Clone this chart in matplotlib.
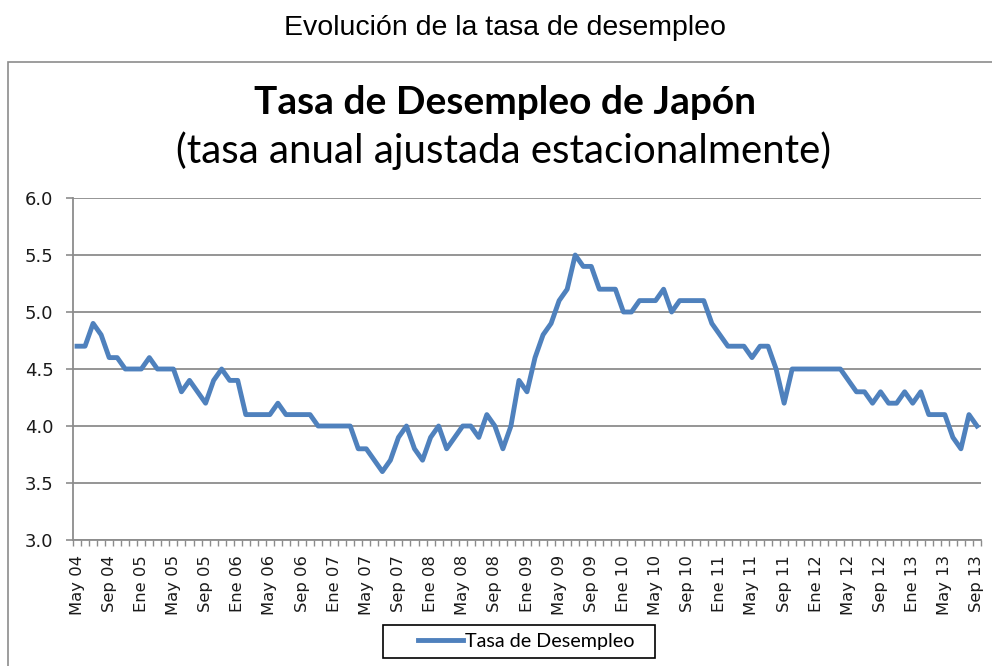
import matplotlib
matplotlib.use("Agg")
import matplotlib.pyplot as plt
from matplotlib.patches import Rectangle
import numpy as np

# Data: monthly unemployment rate, May 2004 .. Sep 2013
values = [
    4.7, 4.7, 4.9, 4.8, 4.6, 4.6, 4.5, 4.5, 4.5, 4.6,   # May04-Feb05
    4.5, 4.5, 4.5, 4.3, 4.4, 4.3, 4.2, 4.4, 4.5, 4.4,   # Mar05-Dec05
    4.4, 4.1, 4.1, 4.1, 4.1, 4.2, 4.1, 4.1, 4.1, 4.1,   # Jan06-Oct06
    4.0, 4.0, 4.0, 4.0, 4.0, 3.8, 3.8, 3.7, 3.6, 3.7,   # Nov06-Aug07
    3.9, 4.0, 3.8, 3.7, 3.9, 4.0, 3.8, 3.9, 4.0, 4.0,   # Sep07-Jun08
    3.9, 4.1, 4.0, 3.8, 4.0, 4.4, 4.3, 4.6, 4.8, 4.9,   # Jul08-Apr09
    5.1, 5.2, 5.5, 5.4, 5.4, 5.2, 5.2, 5.2, 5.0, 5.0,   # May09-Feb10
    5.1, 5.1, 5.1, 5.2, 5.0, 5.1, 5.1, 5.1, 5.1, 4.9,   # Mar10-Dec10
    4.8, 4.7, 4.7, 4.7, 4.6, 4.7, 4.7, 4.5, 4.2, 4.5,   # Jan11-Oct11
    4.5, 4.5, 4.5, 4.5, 4.5, 4.5, 4.4, 4.3, 4.3, 4.2,   # Nov11-Aug12
    4.3, 4.2, 4.2, 4.3, 4.2, 4.3, 4.1, 4.1, 4.1, 3.9,   # Sep12-Jun13
    3.8, 4.1, 4.0,                                      # Jul13-Sep13
]
month_names = ["Ene", "Feb", "Mar", "Abr", "May", "Jun",
               "Jul", "Ago", "Sep", "Oct", "Nov", "Dic"]
start_year = 2004
start_month = 4  # May (0-based)
tick_step = 4
series_name = "Tasa de Desempleo"
page_title = "Evolución de la tasa de desempleo"
chart_title = "Tasa de Desempleo de Japón"
chart_subtitle = "(tasa anual ajustada estacionalmente)"
y_ticks = [3.0, 3.5, 4.0, 4.5, 5.0, 5.5, 6.0]

labels = []
for i in range(len(values)):
    m = (start_month + i) % 12
    y = start_year + (start_month + i) // 12
    labels.append(f"{month_names[m]} {y % 100:02d}")

W, H = 992, 666
fig = plt.figure(figsize=(W / 100, H / 100), dpi=100)
fig.patch.set_facecolor("white")

# chart border (cut off at right/bottom)
fig.patches.append(Rectangle((8 / W, -0.2), 1.2, (H - 62) / H + 0.2,
                             transform=fig.transFigure, fill=False,
                             edgecolor="#8c8c8c", linewidth=1.2))

ax = fig.add_axes([73 / W, 1 - 540 / H, (981 - 73) / W, (540 - 198) / H])
x = np.arange(len(values))
line, = ax.plot(x, values, color="#4F81BD", linewidth=3.5,
                solid_joinstyle="round", label=series_name)

ax.set_xlim(-0.5, len(values) - 0.5)
ax.set_ylim(3.0, 6.0)
ax.set_yticks(y_ticks)
ax.set_yticklabels([f"{v:.1f}" for v in y_ticks])
ax.grid(axis="y", color="#8c8c8c", linewidth=1.3)
ax.set_axisbelow(True)

ticks = x[::tick_step]
ax.set_xticks(ticks)
ax.set_xticklabels([labels[i] for i in ticks], rotation=90)
ax.set_xticks(np.arange(len(values) + 1) - 0.5, minor=True)

for s in ["top", "right"]:
    ax.spines[s].set_visible(False)
for s in ["left", "bottom"]:
    ax.spines[s].set_color("#8c8c8c")
    ax.spines[s].set_linewidth(1.3)

ax.tick_params(axis="y", which="major", length=5, width=1.2, color="#8c8c8c",
               pad=9, labelsize=13, labelcolor="#1a1a1a")
ax.tick_params(axis="x", which="major", length=0, pad=11, labelsize=11.8,
               labelcolor="#1a1a1a")
ax.tick_params(axis="x", which="minor", length=4, width=1.0, color="#8c8c8c")

fig.text(505 / W, 1 - 28 / H, page_title, ha="center", va="center",
         fontsize=20.5, family=["Liberation Sans"], color="black")
fig.text(505 / W, 1 - 103 / H, chart_title, ha="center", va="center",
         fontsize=28, fontweight="bold", family=["Lato", "DejaVu Sans"],
         color="black")
fig.text(503 / W, 1 - 151 / H, chart_subtitle, ha="center", va="center",
         fontsize=29, family=["Lato", "DejaVu Sans"], color="black")

# legend box drawn like the spreadsheet legend
fig.patches.append(Rectangle((383 / W, 1 - 658 / H), (655 - 383) / W, 33 / H,
                             transform=fig.transFigure, fill=True,
                             facecolor="white", edgecolor="black",
                             linewidth=1.2))
leg = fig.legend(handles=[line], loc="center",
                 bbox_to_anchor=(526 / W, 1 - 641 / H),
                 frameon=False, handlelength=2.3,
                 handletextpad=0.1, borderpad=0.2,
                 prop={"family": ["Lato", "DejaVu Sans"], "size": 14.2})

fig.savefig("out.png", dpi=100)
